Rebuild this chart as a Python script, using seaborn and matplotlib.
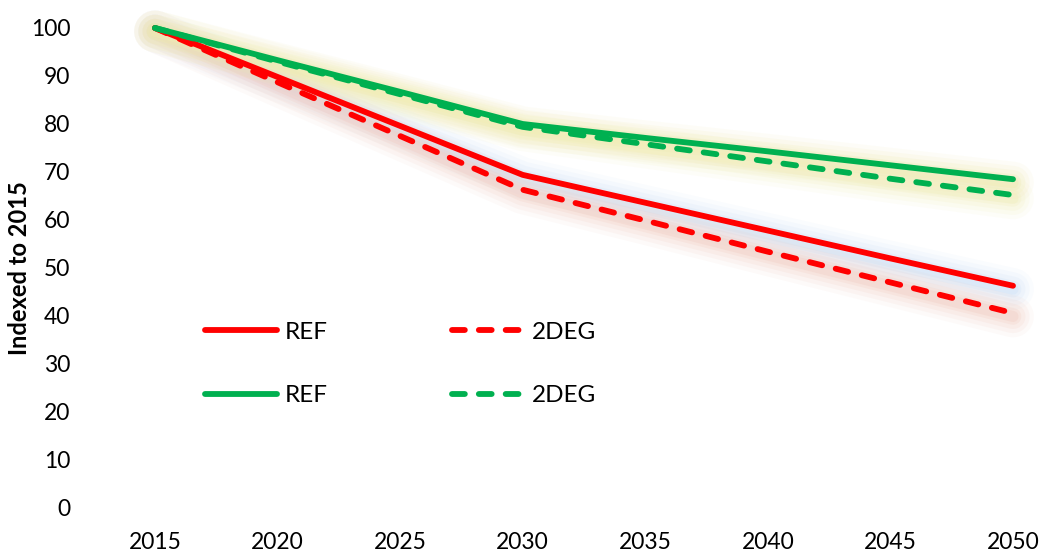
import numpy as np
import pandas as pd
import matplotlib
matplotlib.use("Agg")
import matplotlib.pyplot as plt
import seaborn as sns

years = [2015, 2020, 2025, 2030, 2035, 2040, 2045, 2050]

# Index values (2015 = 100) per region and scenario
red_ref = [100, 89.8, 79.6, 69.4, 63.6, 57.8, 52.0, 46.3]
red_2deg = [100, 88.7, 77.5, 66.3, 59.9, 53.4, 47.0, 40.6]
green_ref = [100, 93.3, 86.7, 80.0, 77.1, 74.3, 71.4, 68.5]
green_2deg = [100, 93.0, 86.2, 79.4, 75.8, 72.2, 68.6, 65.2]

y_ticks = [0, 10, 20, 30, 40, 50, 60, 70, 80, 90, 100]

RED = "#FF0000"
GREEN = "#00B050"

series = [
    ("REF", red_ref, RED, "solid", "#c9def6"),
    ("2DEG", red_2deg, RED, "dashed", "#f0c8bd"),
    ("REF", green_ref, GREEN, "solid", "#eee8a8"),
    ("2DEG", green_2deg, GREEN, "dashed", "#f1edb6"),
]

sns.set_theme(style="white")
plt.rcParams["font.family"] = ["Lato", "DejaVu Sans"]

fig = plt.figure(figsize=(10.42, 5.52), dpi=100)
ax = fig.add_axes([155 / 1042, 44 / 552, 858 / 1042, 480 / 552])

# Soft glow behind each line
for name, vals, color, style, glow in series:
    for w, a in [(30, 0.09), (24, 0.12), (18, 0.16), (12, 0.22), (8, 0.3)]:
        ax.plot(years, np.array(vals) - 0.7, color=glow, lw=w, alpha=a,
                solid_capstyle="round", solid_joinstyle="round",
                zorder=1, clip_on=False, label="_nolegend_")

handles = []
for name, vals, color, style, glow in series:
    df = pd.DataFrame({"year": years, "value": vals})
    n_before = len(ax.lines)
    sns.lineplot(data=df, x="year", y="value", ax=ax, color=color, lw=4.2,
                 label=name, legend=False, zorder=3)
    line = ax.lines[n_before]
    line.set_clip_on(False)
    if style == "dashed":
        line.set_dashes((2.2, 2.4))
        line.set_dash_capstyle("round")
    else:
        line.set_solid_capstyle("round")
    line.set_solid_joinstyle("round")
    handles.append(line)

ax.set_xlim(2015, 2050)
ax.set_ylim(0, 100)
ax.set_xticks(years)
ax.set_xticklabels([str(y) for y in years])
ax.set_yticks(y_ticks)
ax.set_yticklabels([str(v) for v in y_ticks])
ax.tick_params(axis="x", length=0, pad=17, labelsize=16.5, labelcolor="black")
ax.tick_params(axis="y", length=0, pad=61, labelsize=16.5, labelcolor="black")
for lab in ax.get_yticklabels():
    lab.set_horizontalalignment("right")
for s in ax.spines.values():
    s.set_visible(False)
ax.grid(False)
ax.set_xlabel("")
ax.set_ylabel("Indexed to 2015", fontsize=17, fontweight="bold", color="black")
ax.yaxis.set_label_coords(-124 / 858, 0.5)

order = [0, 2, 1, 3]
leg = fig.legend([handles[i] for i in order],
                 [series[i][0] for i in order],
                 ncol=2, frameon=False, fontsize=17.5,
                 handlelength=2.96, handletextpad=0.33, columnspacing=5.1,
                 labelspacing=1.74, loc="upper left",
                 bbox_to_anchor=(183 / 1042, 1 - 300 / 552))
for t in leg.get_texts():
    t.set_color("black")

fig.savefig("out.png", dpi=100, facecolor="white")
